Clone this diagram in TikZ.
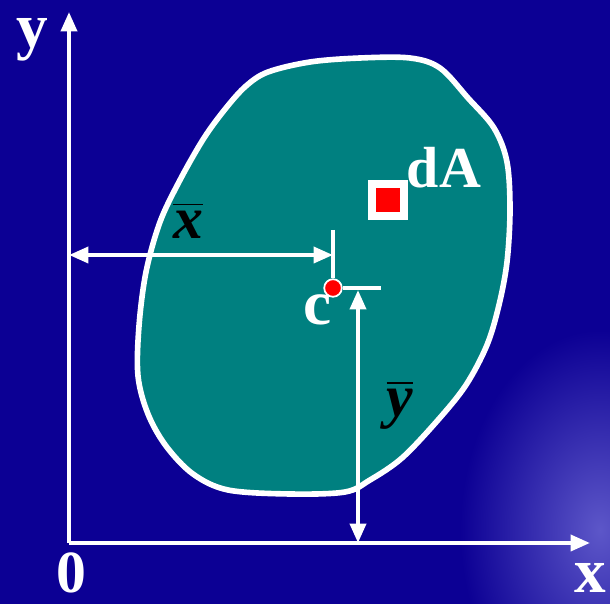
\documentclass[tikz,border=0pt]{standalone}
\usepackage{amsmath}
\usepackage{fontspec}
\setmainfont{Liberation Serif}
\usetikzlibrary{arrows.meta}
\definecolor{bgblue}{RGB}{12,0,148}
\definecolor{blob}{RGB}{0,128,128}

\begin{document}
\begin{tikzpicture}[x=0.02cm, y=-0.02cm, >={Triangle[length=11pt,width=9pt]},
  axis/.style={white, line width=2.3pt},
  dim/.style={white, line width=2.3pt},
  lbl/.style={text=white, font=\bfseries\fontsize{36}{36}\selectfont, inner sep=0pt},
  bar/.style={text=black, font=\bfseries\itshape\fontsize{34}{34}\selectfont, inner sep=0pt}]
  \useasboundingbox (0,0) rectangle (610,604);
  % background
  \fill[bgblue] (0,0) rectangle (610,604);
  \begin{scope}
    \clip (0,0) rectangle (610,604);
    \shade[inner color=bgblue!60!white!85!blue, outer color=bgblue] (600,530) ellipse (140 and 200);
  \end{scope}

  % the area
  \draw[white, line width=3.2pt, fill=blob] plot[smooth cycle, tension=0.55] coordinates {
    (268,72) (310,62) (360,58) (410,58) (440,68) (468,98) (494,128) (507,162)
    (510,210) (507,262) (499,305) (487,345) (466,385) (438,420) (402,458)
    (370,480) (345,492) (290,494) (228,490) (193,474) (166,446) (148,414)
    (138,376) (139,326) (146,272) (160,222) (180,180) (204,138) (226,108) (246,86)};

  % axes
  \coordinate (o) at (69,543);
  \coordinate (ytip) at (69,12);
  \coordinate (xtip) at (590,543);
  \draw[axis, ->] (o) -- (ytip);
  \draw[axis, ->] (o) -- (xtip);
  \node[lbl] (ylab) at (32,40) {y};
  \node[lbl, font=\bfseries\fontsize{34}{34}\selectfont] (olab) at (71,573) {0};
  \node[lbl] (xlab) at (590,578) {x};

  % centroid
  \node[circle, fill=red, draw=white, line width=1pt, inner sep=0pt, minimum size=10pt] (c) at (333,288) {};
  \node[lbl] (clab) at (318,310) {c};
  \coordinate (xtick1) at (333,230);
  \coordinate (xtick2) at (333,278);
  \coordinate (ytick) at (381,288);
  \draw[dim] (xtick1) -- (xtick2);
  \draw[dim] (c.east) -- (ytick);

  % x bar
  \coordinate (xa) at (69,255);
  \coordinate (xb) at (333,255);
  \draw[dim, <->] (xa) -- (xb);
  \node[bar] (xbar) at (188,220) {$\overline{\hbox{x}}$};

  % y bar
  \coordinate (ya) at (358,290);
  \coordinate (yb) at (358,543);
  \draw[dim, <->] (ya) -- (yb);
  \node[bar] (ybar) at (400,405) {$\overline{\hbox{y}}$};

  % dA
  \node[fill=white, minimum size=23pt, inner sep=0pt] (da) at (388,200) {};
  \node[fill=red, minimum size=14pt, inner sep=0pt] at (da) {};
  \node[lbl, font=\bfseries\fontsize{33}{33}\selectfont] (dalab) at (444,168) {dA};
\end{tikzpicture}
\end{document}
